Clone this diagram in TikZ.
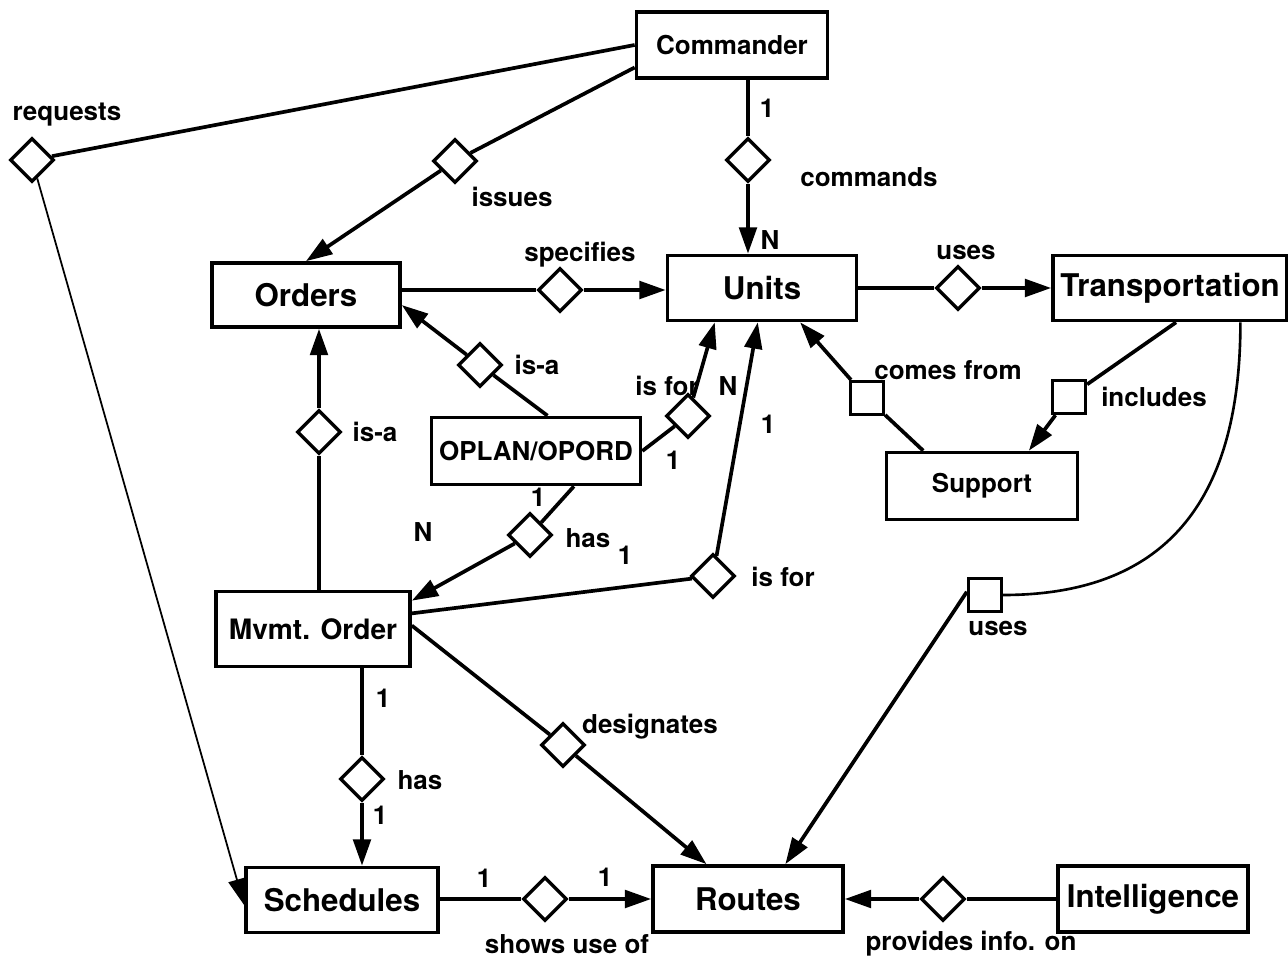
\documentclass[tikz,border=0pt]{standalone}
\usepackage{fontspec}
\setmainfont{TeX Gyre Heros}
\usetikzlibrary{shapes.geometric,arrows.meta}

\begin{document}
\begin{tikzpicture}[x=0.02cm,y=-0.02cm,
	font=\bfseries\fontsize{14.8}{16}\selectfont,
	entity/.style={rectangle,draw,line width=2.1pt,inner sep=0pt},
	big/.style={font=\bfseries\fontsize{17.8}{20}\selectfont},
	rel/.style={diamond,draw,line width=1.9pt,inner sep=0pt,minimum size=0.88cm},
	wrel/.style={rectangle,draw,line width=1.9pt,inner sep=0pt,minimum size=0.66cm},
	link/.style={line width=2.1pt},
	>={Triangle[length=15pt,width=10pt]}]
	\useasboundingbox (0,0) rectangle (1288,959);

	\node[entity,minimum width=3.82cm,minimum height=1.32cm] (cmdr) at (732,45) {Commander};

	\node[entity,big,minimum width=3.76cm,minimum height=1.28cm] (orders) at (306,295) {Orders};
	\node[entity,big,minimum width=3.78cm,minimum height=1.3cm] (units) at (762,288) {Units};
	\node[entity,big,minimum width=4.68cm,minimum height=1.3cm] (transport) at (1170,288) {Transportation};

	\node[entity,minimum width=4.18cm,minimum height=1.34cm] (oplan) at (536,451) {OPLAN/OPORD};
	\node[entity,minimum width=3.82cm,minimum height=1.34cm] (support) at (982,486) {Support};
	\node[entity,minimum width=3.88cm,minimum height=1.5cm,font=\bfseries\fontsize{16}{18}\selectfont] (mvmt) at (313,629) {Mvmt. Order};

	\node[entity,big,minimum width=3.84cm,minimum height=1.3cm] (sched) at (342,900) {Schedules};
	\node[entity,big,minimum width=3.8cm,minimum height=1.32cm] (routes) at (748,899) {Routes};
	\node[entity,big,minimum width=3.8cm,minimum height=1.32cm] (intel) at (1153,899) {Intelligence};

	% relationships
	\node[rel] (dRequests) at (32,160) {};
	\node[rel] (dIssues) at (455,161) {};
	\node[rel] (dCommands) at (748,160) {};
	\node[rel] (dSpecifies) at (560,290) {};
	\node[rel] (dUses) at (958,288) {};
	\node[rel] (dIsaOplan) at (480,365) {};
	\node[rel] (dIsForOplan) at (688,416) {};
	\node[rel] (dIsaMvmt) at (319,432) {};
	\node[rel] (dHasOplan) at (530,535) {};
	\node[rel] (dIsForMvmt) at (713,576) {};
	\node[rel] (dDesignates) at (563,745) {};
	\node[rel] (dHasMvmt) at (362,779) {};
	\node[rel] (dShows) at (545,899) {};
	\node[rel] (dProvides) at (943,899) {};

	\node[wrel] (sComes) at (867,398) {};
	\node[wrel] (sIncludes) at (1069,397) {};
	\node[wrel] (sUses) at (985,595) {};

	% commander
	\path[link] (cmdr.180) edge (dRequests);
		\path[->,line width=1pt] (dRequests) edge (sched.183);
	\path[link] (cmdr.193) edge (dIssues);
		\path[link,->] (dIssues) edge (orders.north);
	\path[link] (cmdr.south -| dCommands) edge (dCommands);
		\path[link,->] (dCommands) edge (units.north -| dCommands);

	% orders, units, transportation
	\path[link] (orders.east |- dSpecifies) edge (dSpecifies);
		\path[link,->] (dSpecifies) edge (units.west |- dSpecifies);
	\path[link] (units.east |- dUses) edge (dUses);
		\path[link,->] (dUses) edge (transport.west |- dUses);

	% oplan
	\path[link] (oplan.72) edge (dIsaOplan);
		\path[link,->] (dIsaOplan) edge (orders.354);
	\path[link] (oplan.east) edge (dIsForOplan);
		\path[link,->] (dIsForOplan) edge (units.216);
	\path[link] (oplan.317) edge (dHasOplan);
		\path[link,->] (dHasOplan) edge (mvmt.16);

	% mvmt. order
	\path[link] (mvmt.north -| dIsaMvmt) edge (dIsaMvmt);
		\path[link,->] (dIsaMvmt) edge (orders.south -| dIsaMvmt);
	\path[link] (mvmt.9) edge (dIsForMvmt);
		\path[link,->] (dIsForMvmt) edge (units.263);
	\path[link] (mvmt.2) edge (dDesignates);
		\path[link,->] (dDesignates) edge (routes.140);
	\path[link] (mvmt.south -| dHasMvmt) edge (dHasMvmt);
		\path[link,->] (dHasMvmt) edge (sched.north -| dHasMvmt);

	% routes
	\path[link] (sched.east |- dShows) edge (dShows);
		\path[link,->] (dShows) edge (routes.west |- dShows);
	\path[link] (intel.west |- dProvides) edge (dProvides);
		\path[link,->] (dProvides) edge (routes.east |- dProvides);

	% support
	\path[link] (support.149) edge (sComes);
		\path[link,->] (sComes) edge (units.318);
	\path[link] (transport.280) edge (sIncludes);
		\path[link,->] (sIncludes) edge (support.37);
	\path[line width=1.5pt] (transport.334) edge[out=-90,in=0,looseness=1.2] (sUses.east);
		\path[link,->] (sUses.170) edge (routes.43);

	% labels
	\node at (67,115) {requests};
	\node at (512,197) {issues};
	\node at (767,108) {1};
	\node at (869,177) {commands};
	\node at (770,240) {N};
	\node at (580,255) {specifies};
	\node at (966,252) {uses};
	\node at (537,365) {is-a};
	\node at (667,386) {is for};
	\node at (728,386) {N};
	\node at (673,460) {1};
	\node at (768,424) {1};
	\node at (948,370) {comes from};
	\node at (1154,397) {includes};
	\node at (375,432) {is-a};
	\node at (538,497) {1};
	\node at (588,538) {has};
	\node at (625,555) {1};
	\node at (423,532) {N};
	\node at (783,577) {is for};
	\node at (998,628) {uses};
	\node at (383,698) {1};
	\node at (650,727) {designates};
	\node at (420,780) {has};
	\node at (380,815) {1};
	\node at (484,878) {1};
	\node at (605,877) {1};
	\node at (567,944) {shows use of};
	\node at (971,944) {provides info. on};
\end{tikzpicture}
\end{document}
